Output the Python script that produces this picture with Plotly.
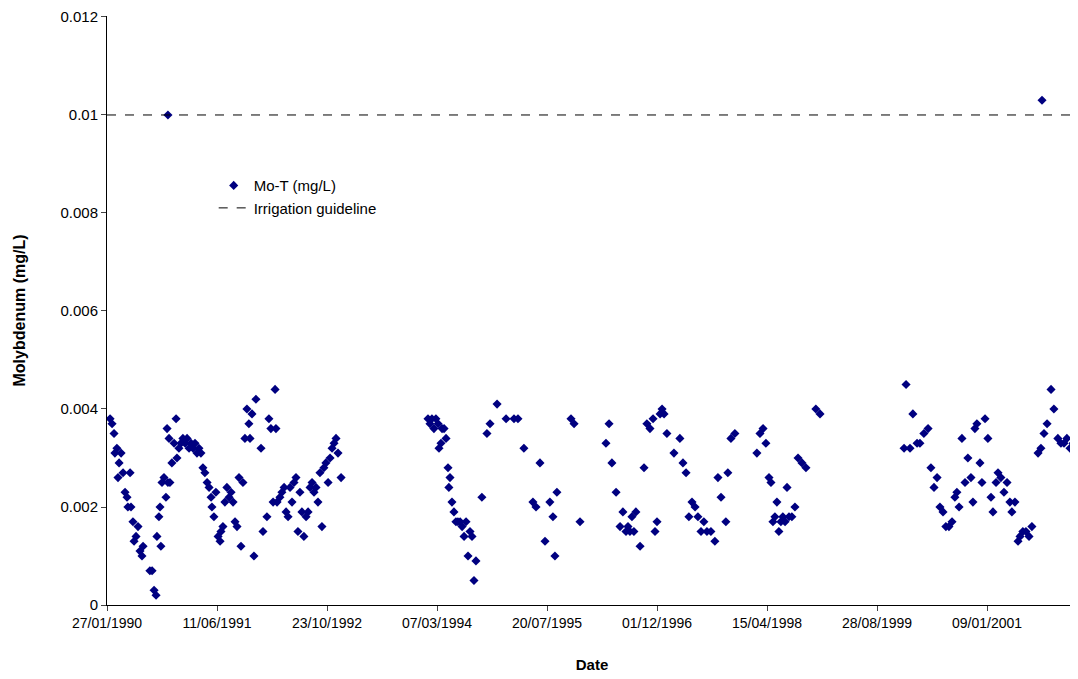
import pandas as pd
import plotly.graph_objects as go

start = pd.Timestamp("1990-01-27")

# sample dates as days after 27/01/1990, Mo-T in mg/L
days = [
    14, 23, 32, 36, 45, 55, 50, 64, 73, 82, 91, 95, 105, 109, 118, 123, 132, 141, 150, 159, 164,
    195, 205, 214, 223, 227, 236, 241, 245, 250, 259, 268, 273, 277, 282, 286, 295, 305, 314, 318,
    327, 336, 345, 355, 364, 373, 382, 391, 400, 409, 418, 427, 436, 445, 455, 464, 473, 477, 486,
    495, 505, 514, 518, 527, 536, 545, 555, 564, 573, 582, 591, 600, 609, 618, 627, 636, 645, 650,
    659, 668, 677, 700, 709, 727, 736, 745, 755, 764, 768, 773, 786, 795, 805, 814, 823, 832, 841,
    850, 859, 868, 877, 886, 895, 905, 914, 923, 932, 941, 950, 959, 968, 977, 986, 995, 1005,
    1014, 1023, 1032, 1041, 1050, 1064, 277,
    1459, 1468, 1477, 1486, 1495, 1505, 1509, 1518, 1523, 1532, 1541, 1550, 1559, 1554, 1568, 1577,
    1586, 1595, 1605, 1614, 1623, 1632, 1641, 1650, 1659, 1668, 1677, 1704, 1727, 1741, 1773, 1814,
    1850, 1868, 1895, 1936, 1950, 1968, 1991, 2013, 2027, 2036, 2045, 2109, 2123, 2150,
    2268, 2282, 2295, 2314, 2332, 2345, 2359, 2368, 2377, 2386, 2395, 2404, 2423, 2441, 2454, 2468,
    2482, 2491, 2500, 2514, 2523, 2532, 2545, 2577, 2604, 2618, 2632, 2645, 2659, 2673, 2686, 2700,
    2713, 2727, 2745, 2763, 2777, 2791, 2813, 2822, 2836, 2854,
    2954, 2968, 2982, 2995, 3009, 3018, 3027, 3036, 3045, 3054, 3063, 3072, 3082, 3091, 3100, 3113,
    3127, 3141, 3159, 3177, 3222, 3241,
    3623, 3632, 3650, 3663, 3682, 3695, 3713, 3732, 3745, 3759, 3773, 3786, 3800, 3813, 3827, 3841,
    3854, 3863, 3873, 3886, 3900, 3913, 3927, 3936, 3945, 3954, 3968, 3977, 3991, 4004, 4018, 4027,
    4041, 4050, 4063, 4077, 4091, 4104, 4113, 4127, 4141, 4150, 4163, 4177, 4191, 4204, 4232, 4245,
    4259, 4273, 4291, 4304, 4322, 4336, 4350, 4363, 4377, 4391, 4404, 4250,
]
mo_t = [
    0.0038, 0.0037, 0.0035, 0.0031, 0.0032, 0.0029, 0.0026, 0.0031, 0.0027, 0.0023, 0.0022, 0.0020,
    0.0027, 0.0020, 0.0017, 0.0013, 0.0014, 0.0016, 0.0011, 0.0010, 0.0012, 0.0007, 0.0007, 0.0003,
    0.0002, 0.0014, 0.0018, 0.0020, 0.0012, 0.0025, 0.0026, 0.0022, 0.0036, 0.0025, 0.0034, 0.0025,
    0.0029, 0.0033, 0.0038, 0.0030, 0.0032, 0.0033, 0.0034, 0.0033, 0.0034, 0.0032, 0.0033, 0.0032,
    0.0033, 0.0031, 0.0032, 0.0031, 0.0028, 0.0027, 0.0025, 0.0024, 0.0022, 0.0020, 0.0018, 0.0023,
    0.0014, 0.0013, 0.0015, 0.0016, 0.0021, 0.0024, 0.0022, 0.0023, 0.0021, 0.0017, 0.0016, 0.0026,
    0.0012, 0.0025, 0.0034, 0.0040, 0.0037, 0.0034, 0.0039, 0.0010, 0.0042, 0.0032, 0.0015, 0.0018,
    0.0038, 0.0036, 0.0021, 0.0044, 0.0036, 0.0021, 0.0022, 0.0023, 0.0024, 0.0019, 0.0018, 0.0024,
    0.0021, 0.0025, 0.0026, 0.0015, 0.0023, 0.0019, 0.0014, 0.0018, 0.0019, 0.0024, 0.0025, 0.0023,
    0.0024, 0.0021, 0.0027, 0.0016, 0.0028, 0.0029, 0.0025, 0.0030, 0.0032, 0.0033, 0.0034, 0.0031,
    0.0026, 0.0100,
    0.0038, 0.0037, 0.0038, 0.0036, 0.0038, 0.0037, 0.0032, 0.0033, 0.0036, 0.0036, 0.0034, 0.0028,
    0.0026, 0.0024, 0.0021, 0.0019, 0.0017, 0.0017, 0.0017, 0.0016, 0.0014, 0.0017, 0.0010, 0.0015,
    0.0014, 0.0005, 0.0009, 0.0022, 0.0035, 0.0037, 0.0041, 0.0038, 0.0038, 0.0038, 0.0032, 0.0021,
    0.0020, 0.0029, 0.0013, 0.0021, 0.0018, 0.0010, 0.0023, 0.0038, 0.0037, 0.0017,
    0.0033, 0.0037, 0.0029, 0.0023, 0.0016, 0.0019, 0.0015, 0.0016, 0.0015, 0.0018, 0.0015, 0.0019,
    0.0012, 0.0028, 0.0037, 0.0036, 0.0038, 0.0015, 0.0017, 0.0039, 0.0040, 0.0039, 0.0035, 0.0031,
    0.0034, 0.0029, 0.0027, 0.0018, 0.0021, 0.0020, 0.0018, 0.0015, 0.0017, 0.0015, 0.0015, 0.0013,
    0.0026, 0.0022, 0.0017, 0.0027, 0.0034, 0.0035,
    0.0031, 0.0035, 0.0036, 0.0033, 0.0026, 0.0025, 0.0017, 0.0018, 0.0021, 0.0015, 0.0017, 0.0018,
    0.0017, 0.0024, 0.0018, 0.0018, 0.0020, 0.0030, 0.0029, 0.0028, 0.0040, 0.0039,
    0.0032, 0.0045, 0.0032, 0.0039, 0.0033, 0.0033, 0.0035, 0.0036, 0.0028, 0.0024, 0.0026, 0.0020,
    0.0019, 0.0016, 0.0016, 0.0017, 0.0022, 0.0023, 0.0020, 0.0034, 0.0025, 0.0030, 0.0026, 0.0021,
    0.0036, 0.0037, 0.0029, 0.0025, 0.0038, 0.0034, 0.0022, 0.0019, 0.0025, 0.0027, 0.0026, 0.0023,
    0.0025, 0.0021, 0.0019, 0.0021, 0.0013, 0.0014, 0.0015, 0.0015, 0.0014, 0.0016, 0.0031, 0.0032,
    0.0035, 0.0037, 0.0044, 0.0040, 0.0034, 0.0033, 0.0033, 0.0034, 0.0032, 0.0033, 0.0036, 0.0103,
]
guideline = 0.01
axis_days = [0, 4409]
x_tick_days = [0, 500, 1000, 1500, 2000, 2500, 3000, 3500, 4000]
y_ticks = [0, 0.002, 0.004, 0.006, 0.008, 0.01, 0.012]
y_tick_labels = ["0", "0.002", "0.004", "0.006", "0.008", "0.01", "0.012"]

dates = [start + pd.Timedelta(days=d) for d in days]
axis_dates = [start + pd.Timedelta(days=d) for d in axis_days]
x_tick_dates = [start + pd.Timedelta(days=d) for d in x_tick_days]
x_tick_labels = [d.strftime("%d/%m/%Y") for d in x_tick_dates]

fig = go.Figure()
fig.add_trace(go.Scatter(x=dates, y=mo_t, mode="markers", name="Mo-T (mg/L)",
                         marker=dict(symbol="diamond", size=7, color="#000080")))
fig.add_trace(go.Scatter(x=axis_dates, y=[guideline, guideline], mode="lines",
                         name="Irrigation guideline",
                         line=dict(color="black", width=1, dash="dash")))

fig.update_layout(
    width=1070, height=671,
    margin=dict(l=99, r=1, t=8, b=74),
    plot_bgcolor="white", paper_bgcolor="white",
    font=dict(family="Liberation Sans, Arial", size=14, color="black"),
    showlegend=True,
    legend=dict(x=0.11, y=0.74, xanchor="left", yanchor="top",
                bgcolor="rgba(0,0,0,0)", font=dict(size=15)),
    xaxis=dict(
        range=axis_dates, type="date", automargin=False,
        tickvals=x_tick_dates, ticktext=x_tick_labels,
        ticks="outside", ticklen=5, showgrid=False, zeroline=False,
        showline=True, linecolor="black", tickfont=dict(size=14),
        title=dict(text="<b>Date</b>", font=dict(size=15), standoff=29),
    ),
    yaxis=dict(
        range=[0, 0.01202], automargin=False,
        tickvals=y_ticks, ticktext=y_tick_labels,
        ticks="outside", ticklen=5, showgrid=False, zeroline=False,
        showline=True, linecolor="black", tickfont=dict(size=15),
        title=dict(text="<b>Molybdenum (mg/L)</b>", font=dict(size=16), standoff=30),
    ),
)

fig.write_html("out.html")
